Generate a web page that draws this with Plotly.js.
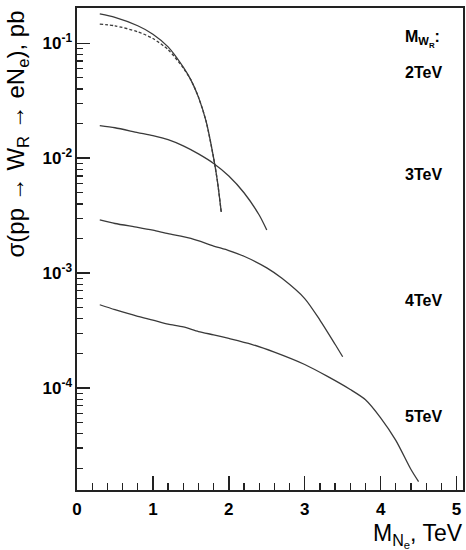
<!DOCTYPE html>
<html>
<head>
<meta charset="utf-8">
<script src="https://cdn.plot.ly/plotly-3.0.1.min.js"></script>
<style>html,body{margin:0;padding:0;background:#fff;}#chart{width:466px;height:550px;}</style>
</head>
<body>
<div id="chart"></div>
<script>
// M_N (TeV) and cross sections (pb)
const x2 = [0.3, 0.5, 0.8, 1.0, 1.2, 1.4, 1.5, 1.6, 1.7, 1.8, 1.85, 1.9];
const y2 = [0.18, 0.168, 0.142, 0.120, 0.093, 0.062, 0.048, 0.034, 0.021, 0.0100, 0.0063, 0.0034];
const x2d = [0.3, 0.5, 0.8, 1.0, 1.2, 1.4, 1.5, 1.6, 1.7, 1.8, 1.85, 1.9];
const y2d = [0.147, 0.142, 0.126, 0.110, 0.088, 0.061, 0.048, 0.034, 0.021, 0.0100, 0.0063, 0.0034];
const x3 = [0.3, 0.5, 0.8, 1.0, 1.2, 1.4, 1.6, 1.8, 2.0, 2.2, 2.4, 2.5];
const y3 = [0.0192, 0.0184, 0.0167, 0.0157, 0.0145, 0.0128, 0.0109, 0.0090, 0.0070, 0.0050, 0.0032, 0.00237];
const x4 = [0.3, 0.5, 0.8, 1.0, 1.2, 1.5, 1.8, 2.0, 2.2, 2.5, 2.7, 3.0, 3.2, 3.4, 3.5];
const y4 = [0.0029, 0.0027, 0.0025, 0.00236, 0.0022, 0.0020, 0.00172, 0.00157, 0.0014, 0.00111, 0.0009, 0.0006, 0.00039, 0.00024, 0.000187];
const x5 = [0.3, 0.5, 0.8, 1.0, 1.2, 1.4, 1.6, 1.8, 2.0, 2.3, 2.6, 3.0, 3.3, 3.6, 3.8, 4.0, 4.2, 4.4, 4.5];
const y5 = [0.00053, 0.00048, 0.00042, 0.00039, 0.00036, 0.00034, 0.00031, 0.00029, 0.00027, 0.00024, 0.000205, 0.00016, 0.000126, 0.000097, 0.000079, 0.000055, 0.000035, 0.0000195, 0.0000153];

const seriesLabels = ['2TeV', '3TeV', '4TeV', '5TeV'];
const yTickVals = [1e-4, 1e-3, 1e-2, 1e-1];
const yTickText = ['10<sup>-4</sup>', '10<sup>-3</sup>', '10<sup>-2</sup>', '10<sup>-1</sup>'];
const xTickVals = [0, 1, 2, 3, 4, 5];

function mkTrace(x, y, dash) {
  return {
    x: x, y: y, mode: 'lines', showlegend: false, hoverinfo: 'skip',
    line: {color: '#3a3a3a', width: 1.3, dash: dash || 'solid', shape: 'spline', smoothing: 0.7}
  };
}
const traces = [
  mkTrace(x2, y2),
  mkTrace(x2d, y2d, '3px,2px'),
  mkTrace(x3, y3),
  mkTrace(x4, y4),
  mkTrace(x5, y5)
];

const fam = 'Liberation Sans, Arial, sans-serif';
const tickFont = {family: fam, size: 17, color: '#000', weight: 'bold'};
const labelFont = {family: fam, size: 16, color: '#000', weight: 'bold'};
const titleFont = {family: fam, size: 24, color: '#000'};
const xTitleFont = {family: fam, size: 23, color: '#000'};

const labelY = [0.867, 0.654, 0.394, 0.1525];
const annotations = seriesLabels.map((s, i) => ({
  text: s, xref: 'paper', yref: 'paper', x: 0.845, y: labelY[i],
  xanchor: 'left', yanchor: 'middle', showarrow: false, font: labelFont
}));
annotations.push({
  text: 'M<sub>W<sub>R</sub></sub>:', xref: 'paper', yref: 'paper', x: 0.845, y: 0.935,
  xanchor: 'left', yanchor: 'middle', showarrow: false, font: labelFont
});
annotations.push({
  text: 'σ(pp → W<sub>R</sub> → eN<sub>e</sub>), pb', xref: 'paper', yref: 'paper',
  x: -0.153, y: 1.0, xanchor: 'center', yanchor: 'top', textangle: -90, showarrow: false, font: titleFont
});
annotations.push({
  text: 'M<sub>N<sub>e</sub></sub>, TeV', xref: 'paper', yref: 'paper',
  x: 1.006, y: -0.058, xanchor: 'right', yanchor: 'top', showarrow: false, font: xTitleFont
});

const layout = {
  width: 466, height: 550,
  margin: {l: 77, r: 3, t: 8, b: 60},
  paper_bgcolor: '#fff', plot_bgcolor: '#fff',
  showlegend: false,
  xaxis: {
    range: [0, 5.085], showgrid: false, zeroline: false,
    showline: true, mirror: true, linecolor: '#222', linewidth: 1.6,
    ticks: 'inside', ticklen: 14, tickwidth: 1.4, tickcolor: '#222',
    tickvals: xTickVals, tickfont: tickFont, ticklabelstandoff: 3,
    minor: {dtick: 0.2, ticks: 'inside', ticklen: 7, tickwidth: 1.2, tickcolor: '#222', showgrid: false}
  },
  yaxis: {
    type: 'log', range: [-4.888, -0.693], showgrid: false, zeroline: false,
    showline: true, mirror: true, linecolor: '#222', linewidth: 1.6,
    ticks: 'inside', ticklen: 13, tickwidth: 1.4, tickcolor: '#222',
    tickvals: yTickVals, ticktext: yTickText, tickfont: tickFont, ticklabelstandoff: 0,
    minor: {dtick: 'D1', ticks: 'inside', ticklen: 6, tickwidth: 1.2, tickcolor: '#222', showgrid: false}
  },
  annotations: annotations
};

Plotly.newPlot('chart', traces, layout, {displayModeBar: false, staticPlot: true});
</script>
</body>
</html>
